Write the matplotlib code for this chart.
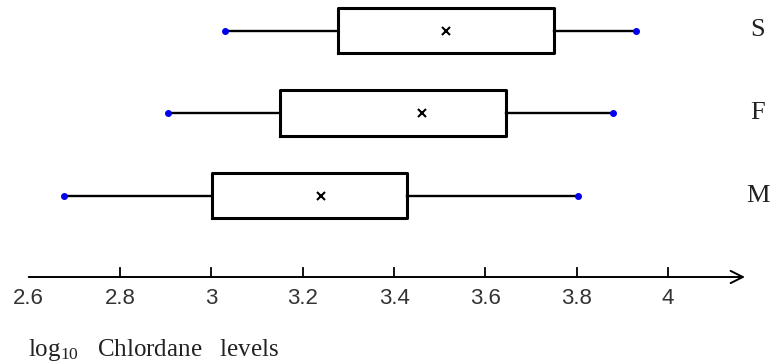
import matplotlib.pyplot as plt

groups = ['M', 'F', 'S']
mins = [2.677, 2.905, 3.030]
q1 = [3.002, 3.150, 3.278]
means = [3.241, 3.461, 3.514]
q3 = [3.428, 3.645, 3.750]
maxs = [3.803, 3.880, 3.929]
tick_values = [2.6, 2.8, 3.0, 3.2, 3.4, 3.6, 3.8, 4.0]
tick_labels = ['2.6', '2.8', '3', '3.2', '3.4', '3.6', '3.8', '4']

# pixel layout: x=2.6 at 28.7px, 456.7px per unit; rows 82.5px apart
px_x = 456.7
px_y = 82.5
axis_y = -(277 - 195.5) / px_y

fig = plt.figure(figsize=(7.81, 3.64), dpi=100)
ax = fig.add_axes([0, 0, 1, 1])

positions = list(range(len(groups)))
stats = []
for i in positions:
    stats.append(dict(med=means[i], mean=means[i], q1=q1[i], q3=q3[i],
                      whislo=mins[i], whishi=maxs[i], fliers=[]))

ax.bxp(stats, positions=positions, orientation='horizontal', widths=0.55,
       showmeans=True, showcaps=False, patch_artist=False,
       boxprops=dict(color='black', linewidth=2.2),
       whiskerprops=dict(color='black', linewidth=1.7),
       medianprops=dict(visible=False),
       meanprops=dict(marker='x', markeredgecolor='black', markersize=6,
                      markeredgewidth=1.5))
ax.plot(mins, positions, 'o', color='#0000ee', markersize=4, zorder=5)
ax.plot(maxs, positions, 'o', color='#0000ee', markersize=4, zorder=5)

for i, g in enumerate(groups):
    ax.text(2.6 + (758 - 28.7) / px_x, i, g, ha='center', va='center',
            fontsize=19, family='Liberation Serif', color='#222222')

# axis with arrow
ax.annotate('', xy=(2.6 + (745 - 28.7) / px_x, axis_y), xytext=(2.6, axis_y),
            arrowprops=dict(arrowstyle='->', lw=1.4, color='black',
                            mutation_scale=22, shrinkA=0, shrinkB=0))
for v, lab in zip(tick_values, tick_labels):
    if v > 2.6:
        ax.plot([v, v], [axis_y, axis_y + 9 / px_y], color='black', lw=1.3)
    ax.text(v, -(298 - 195.5) / px_y, lab, ha='center', va='center',
            fontsize=16, family='Liberation Sans', color='#333333')

fig.text(28 / 781, 1 - 350 / 364, r'$\mathregular{log_{10}}$   Chlordane   levels',
         ha='left', va='center', fontsize=18, family='Liberation Serif',
         color='#222222')

ax.set_xlim(2.6 - 28.7 / px_x, 2.6 + (781 - 28.7) / px_x)
ax.set_ylim(-(364 - 195.5) / px_y, 2 + 30.5 / px_y)
ax.axis('off')

fig.savefig('out.png', dpi=100)
